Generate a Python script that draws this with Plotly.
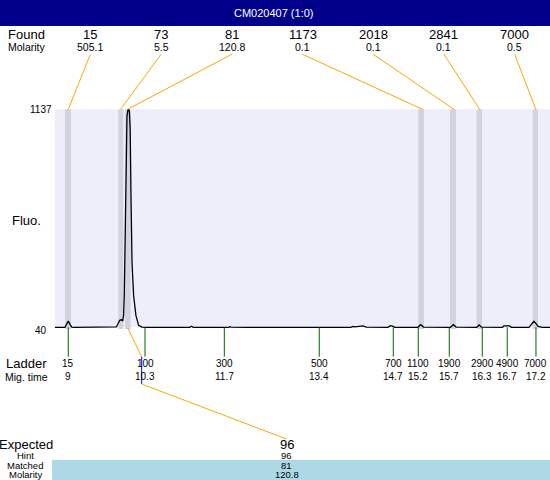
import plotly.graph_objects as go

# ---------------- data ----------------
header_title = "CM020407 (1:0)"

found_size = ["15", "73", "81", "1173", "2018", "2841", "7000"]
found_molarity = ["505.1", "5.5", "120.8", "0.1", "0.1", "0.1", "0.5"]
found_time = [9.0, 9.914, 10.037, 15.18, 15.73, 16.18, 17.16]
found_start = [8.942, 9.873, 9.990, 15.108, 15.661, 16.127, 17.105]
found_end = [9.047, 9.960, 10.089, 15.208, 15.766, 16.220, 17.197]

ladder_size = ["15", "100", "300", "500", "700", "1100", "1900", "2900", "4900", "7000"]
ladder_time = [9.0, 10.339, 11.723, 13.380, 14.672, 15.108, 15.649, 16.225, 16.661, 17.162]
ladder_time_label = ["9", "10.3", "11.7", "13.4", "14.7", "15.2", "15.7", "16.3", "16.7", "17.2"]

expected_size = "96"
expected_hint = "96"
expected_matched = "81"
expected_molarity = "120.8"
expected_time = 10.281
matched_index = 2

fluo_min, fluo_max = 40, 1137
time_min, time_max = 8.768, 17.407

trace_time = [8.768, 8.94, 8.97, 9.0, 9.03, 9.06, 9.10,
              9.80, 9.84, 9.87, 9.90, 9.93, 9.95,
              9.965, 9.977, 9.995, 10.012, 10.024, 10.04, 10.05, 10.066, 10.08,
              10.094, 10.112, 10.14, 10.18, 10.227, 10.286, 10.35,
              11.12, 11.15, 11.18, 11.80, 11.82, 11.84, 12.05, 12.08, 12.11,
              13.93, 13.97, 14.0, 14.145, 14.2, 14.58, 14.62, 14.66, 14.70,
              15.10, 15.15, 15.20, 15.67, 15.72, 15.77, 16.13, 16.17, 16.21,
              16.58, 16.60, 16.70, 16.73, 17.04, 17.10, 17.127, 17.16, 17.20,
              17.27, 17.407]
trace_fluo = [40, 40, 55, 72, 55, 41, 40,
              40, 42, 60, 76, 78, 72,
              100, 200, 536, 867, 1100, 1132, 1137, 1127, 1037,
              701, 366, 200, 100, 50, 41, 40,
              40, 45, 40, 40, 43, 41, 40, 43, 40,
              40, 44, 42, 47, 41, 40, 48, 46, 40,
              40, 53, 41, 40, 53, 41, 40, 52, 41,
              40, 47, 47, 40, 40, 58, 70, 60, 45,
              40, 40]

# ---------------- layout geometry ----------------
W, H = 550, 480
L, R, T, B = 55, 550, 105, 331
FONT = "Liberation Sans, Arial, sans-serif"


def px_x(px):
    return (px - L) / (R - L)


def px_y(py):
    return (B - py) / (B - T)


def x_of_paper(p):
    return time_min + p * (time_max - time_min)


fig = go.Figure()
fig.add_trace(go.Scatter(x=trace_time, y=trace_fluo, mode="lines",
                         line=dict(color="black", width=1.3),
                         hoverinfo="skip", showlegend=False))

shapes = []
annotations = []

# header bar
shapes.append(dict(type="rect", xref="paper", yref="paper", x0=px_x(0), x1=px_x(W),
                   y0=px_y(26), y1=px_y(0), fillcolor="#00008B", line_width=0, layer="below"))
annotations.append(dict(text=header_title, xref="paper", yref="paper", x=px_x(274), y=px_y(13),
                        showarrow=False, font=dict(color="white", size=11, family=FONT)))

# plot background
shapes.append(dict(type="rect", xref="paper", yref="y", x0=0, x1=1, y0=fluo_min, y1=fluo_max,
                   fillcolor="#EEEEFB", line_width=0, layer="below"))
# peak bands
for s, e in zip(found_start, found_end):
    shapes.append(dict(type="rect", xref="x", yref="y", x0=s, x1=e, y0=fluo_min - 8, y1=fluo_max,
                       fillcolor="#D3D3E0", line_width=0, layer="below"))

# found labels + connectors
n = len(found_size)
lab_font = dict(color="black", family=FONT)
annotations.append(dict(text="Found", xref="paper", yref="paper", x=px_x(26.5), y=px_y(34.3),
                        showarrow=False, font=dict(size=13, **lab_font)))
annotations.append(dict(text="Molarity", xref="paper", yref="paper", x=px_x(26.5), y=px_y(46.5),
                        showarrow=False, font=dict(size=10.5, **lab_font)))
for i in range(n):
    p = (i + 0.5) / n
    annotations.append(dict(text=found_size[i], xref="paper", yref="paper", x=p, y=px_y(34.3),
                            showarrow=False, font=dict(size=13, **lab_font)))
    annotations.append(dict(text=found_molarity[i], xref="paper", yref="paper", x=p, y=px_y(46.7),
                            showarrow=False, font=dict(size=10.5, **lab_font)))
    shapes.append(dict(type="line", xref="x", yref="paper", x0=x_of_paper(p), y0=px_y(54.3),
                       x1=found_time[i], y1=px_y(109.3), line=dict(color="#FFA500", width=1)))

# y labels
annotations.append(dict(text=str(fluo_max), xref="paper", yref="y", x=px_x(40.5), y=fluo_max,
                        showarrow=False, font=dict(size=10, **lab_font)))
annotations.append(dict(text=str(fluo_min), xref="paper", yref="paper", x=px_x(41.3), y=px_y(330),
                        showarrow=False, font=dict(size=10, **lab_font)))
annotations.append(dict(text="Fluo.", xref="paper", yref="paper", x=px_x(26.5), y=px_y(220),
                        showarrow=False, font=dict(size=13, **lab_font)))

# ladder
annotations.append(dict(text="Ladder", xref="paper", yref="paper", x=px_x(26.7), y=px_y(363.3),
                        showarrow=False, font=dict(size=13, **lab_font)))
annotations.append(dict(text="Mig. time", xref="paper", yref="paper", x=px_x(26.4), y=px_y(376.7),
                        showarrow=False, font=dict(size=10.5, **lab_font)))
for sz, t, tl in zip(ladder_size, ladder_time, ladder_time_label):
    shapes.append(dict(type="line", xref="x", yref="paper", x0=t, x1=t, y0=px_y(327.3), y1=px_y(356.7),
                       line=dict(color="#006400", width=1)))
    annotations.append(dict(text=sz, xref="x", yref="paper", x=t, y=px_y(363.3),
                            showarrow=False, font=dict(size=10, **lab_font)))
    annotations.append(dict(text=tl, xref="x", yref="paper", x=t, y=px_y(376.7),
                            showarrow=False, font=dict(size=10, **lab_font)))

# expected connector
bottom_col = px_x(286.5)
shapes.append(dict(type="line", xref="x", yref="paper", x0=found_time[matched_index], y0=px_y(328),
                   x1=expected_time, y1=px_y(356.7), line=dict(color="#FFA500", width=1)))
shapes.append(dict(type="line", xref="x", yref="paper", x0=expected_time, y0=px_y(356.7),
                   x1=expected_time, y1=px_y(384), line=dict(color="#0000FF", width=1)))
shapes.append(dict(type="line", xref="x", yref="paper", x0=expected_time, y0=px_y(384),
                   x1=x_of_paper(bottom_col), y1=px_y(439), line=dict(color="#FFA500", width=1)))

# bottom table
shapes.append(dict(type="rect", xref="paper", yref="paper", x0=px_x(52), x1=px_x(W),
                   y0=px_y(480), y1=px_y(460), fillcolor="#ADD8E6", line_width=0, layer="below"))
for txt, py, size, cx in [("Expected", 444, 13, 26), ("Hint", 455, 9.5, 25),
                          ("Matched", 465, 9.5, 25.3), ("Molarity", 474.5, 9.5, 26)]:
    annotations.append(dict(text=txt, xref="paper", yref="paper", x=px_x(cx), y=px_y(py),
                            showarrow=False, font=dict(size=size, **lab_font)))
for txt, py, size in [(expected_size, 444, 13), (expected_hint, 455, 9.5),
                      (expected_matched, 465, 9.5), (expected_molarity, 474.5, 9.5)]:
    annotations.append(dict(text=txt, xref="paper", yref="paper", x=bottom_col, y=px_y(py),
                            showarrow=False, font=dict(size=size, **lab_font)))

for a in annotations:
    a.setdefault("xanchor", "center")
    a.setdefault("yanchor", "middle")
    a["borderpad"] = 0

fig.update_layout(
    width=W, height=H,
    margin=dict(l=L, r=W - R, t=T, b=H - B, pad=0),
    paper_bgcolor="white", plot_bgcolor="white",
    xaxis=dict(range=[time_min, time_max], visible=False, showgrid=False, zeroline=False),
    yaxis=dict(range=[21.4, 1158.6], visible=False, showgrid=False, zeroline=False),
    shapes=shapes, annotations=annotations,
    showlegend=False,
    font=dict(family=FONT),
)

fig.write_html("out.html", config={"displayModeBar": False},
               post_script="document.body.style.margin='0';document.body.style.overflow='hidden';")
